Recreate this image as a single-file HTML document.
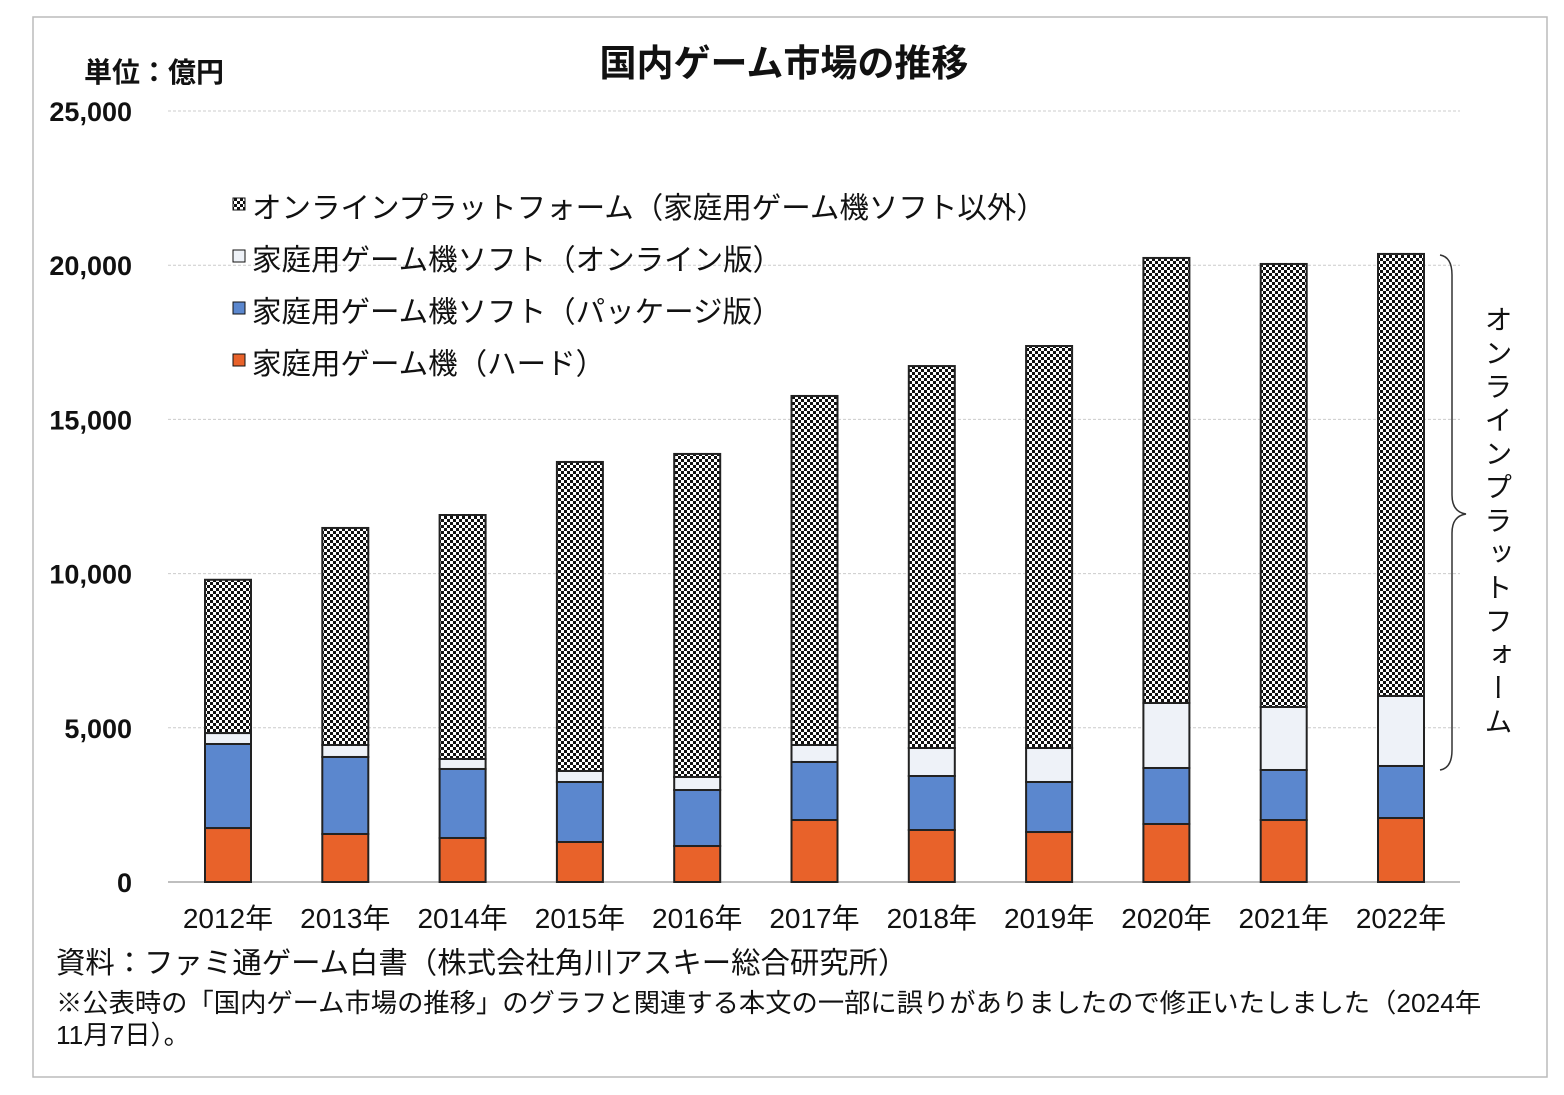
<!DOCTYPE html>
<html><head><meta charset="utf-8"><style>
body{margin:0;background:#fff;width:1564px;height:1090px;overflow:hidden;font-family:"Liberation Sans","Noto Sans CJK JP",sans-serif}
svg text{font-family:"Liberation Sans","Noto Sans CJK JP",sans-serif;fill:#111}
</style></head><body>
<svg id="chart" width="1564" height="1090" xmlns="http://www.w3.org/2000/svg">
<defs>
<pattern id="chk" width="6" height="6" patternUnits="userSpaceOnUse">
<rect width="6" height="6" fill="#fff"/><rect width="3" height="3" fill="#111"/><rect x="3" y="3" width="3" height="3" fill="#111"/>
</pattern>
</defs>
<rect x="33" y="17" width="1514" height="1060" fill="#fff" stroke="#bbb" stroke-width="1.5"/>
<text x="784" y="76" font-size="37" font-weight="bold" text-anchor="middle">国内ゲーム市場の推移</text>
<text x="84" y="82" font-size="28" font-weight="bold">単位：億円</text>
<g id="grid"></g>
<g id="bars"></g>
<g id="legend">
<rect x="233" y="198" width="12" height="12" fill="url(#chk)" stroke="#111"/>
<text x="252" y="218" font-size="29.5">オンラインプラットフォーム（家庭用ゲーム機ソフト以外）</text>
<rect x="233" y="250" width="12" height="12" fill="#EEF2F8" stroke="#111"/>
<text x="252" y="270" font-size="29.5">家庭用ゲーム機ソフト（オンライン版）</text>
<rect x="233" y="302" width="12" height="12" fill="#5B87CE" stroke="#111"/>
<text x="252" y="322" font-size="29.5">家庭用ゲーム機ソフト（パッケージ版）</text>
<rect x="233" y="354" width="12" height="12" fill="#E8622A" stroke="#111"/>
<text x="252" y="374" font-size="29.5">家庭用ゲーム機（ハード）</text>
</g>
<path d="M1440 255 Q1452 257 1452 275 L1452 495 Q1452 512 1466 514 Q1452 516 1452 533 L1452 750 Q1452 768 1440 770" fill="none" stroke="#333" stroke-width="1.5"/>
<text x="1497" y="305" font-size="28" style="writing-mode:vertical-rl;letter-spacing:5.5px">オンラインプラットフォーム</text>
<text x="56" y="973" font-size="29.4">資料：ファミ通ゲーム白書（株式会社角川アスキー総合研究所）</text>
<text x="56" y="1012" font-size="26.3">※公表時の「国内ゲーム市場の推移」のグラフと関連する本文の一部に誤りがありましたので修正いたしました（2024年</text>
<text x="56" y="1044" font-size="26.3">11月7日）。</text>
</svg>
<script>
const categories=["2012年","2013年","2014年","2015年","2016年","2017年","2018年","2019年","2020年","2021年","2022年"];
const hardware=[1750,1557,1427,1297,1167,2010,1686,1621,1881,2010,2075];
const packageSoft=[2725,2497,2238,1946,1816,1882,1751,1622,1816,1622,1687];
const onlineSoft=[355,389,324,357,422,551,908,1102,2108,2043,2270];
const onlinePlatform=[4970,7037,7911,10020,10475,11317,12385,13035,14430,14365,14333];
const yTicks=[0,5000,10000,15000,20000,25000];
const yTickLabels=["0","5,000","10,000","15,000","20,000","25,000"];
const NS="http://www.w3.org/2000/svg";
const y0=882,yTop=111,yMax=25000,xL=168,xR=1460;
function yS(v){return y0-(v/yMax)*(y0-yTop);}
function xS(i){return 228+i*117.3;}
const grid=document.getElementById('grid'),bars=document.getElementById('bars');
yTicks.forEach((t,i)=>{
 const l=document.createElementNS(NS,'line');
 
 
 l.setAttribute('x1',xL);l.setAttribute('x2',xR);l.setAttribute('y1',yS(t));l.setAttribute('y2',yS(t));
 l.setAttribute('stroke',t===0?'#aaa':'#ccc');l.setAttribute('stroke-width',t===0?1.5:1);
 if(t!==0)l.setAttribute('stroke-dasharray','3,2');
 grid.appendChild(l);
 const tx=document.createElementNS(NS,'text');
 
 
 tx.setAttribute('x',132);tx.setAttribute('y',yS(t)+10);tx.setAttribute('text-anchor','end');
 tx.setAttribute('font-size','27');tx.setAttribute('font-weight','bold');
 tx.setAttribute('font-family','"Liberation Mono",monospace');
 tx.textContent=yTickLabels[i];grid.appendChild(tx);
});
const series=[[hardware,'#E8622A','hardware'],[packageSoft,'#5B87CE','package'],[onlineSoft,'#EEF2F8','online-soft'],[onlinePlatform,'url(#chk)','online-platform']];
categories.forEach((c,i)=>{
 let acc=0;const cx=xS(i),w=46;
 series.forEach(s=>{
  const v=s[0][i];
  const r=document.createElementNS(NS,'rect');
  
  
  r.setAttribute('x',cx-w/2);r.setAttribute('width',w);
  r.setAttribute('y',yS(acc+v));r.setAttribute('height',yS(acc)-yS(acc+v));
  r.setAttribute('fill',s[1]);r.setAttribute('stroke','#222');r.setAttribute('stroke-width','2');
  bars.appendChild(r);acc+=v;
 });
 const t=document.createElementNS(NS,'text');
 
 
 t.setAttribute('x',cx);t.setAttribute('y',928);t.setAttribute('text-anchor','middle');t.setAttribute('font-size','28');
 t.textContent=c;bars.appendChild(t);
});
</script>
</body></html>
